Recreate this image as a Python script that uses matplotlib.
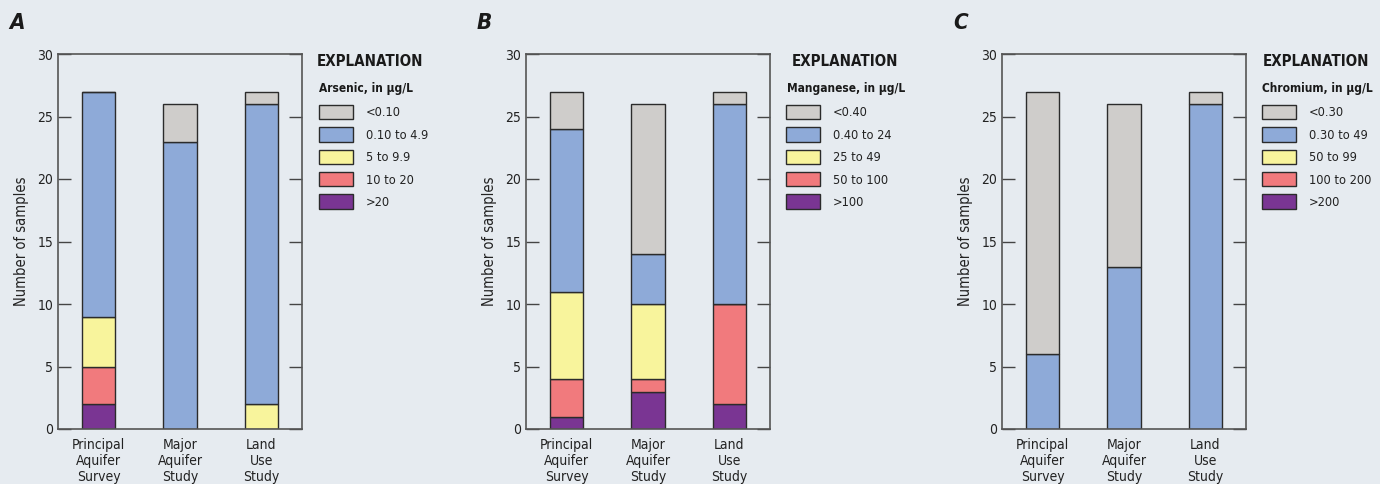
import matplotlib
matplotlib.use("Agg")
import matplotlib.pyplot as plt
from matplotlib.patches import Patch
import numpy as np

plt.rcParams['font.family'] = ['DejaVu Sans']
plt.rcParams['font.stretch'] = 'condensed'

# Study types along the x axis
studies = ["Principal\nAquifer\nSurvey", "Major\nAquifer\nStudy", "Land\nUse\nStudy"]

# Concentration classes, listed from highest (bottom of stack) to lowest (top)
arsenic_classes = [">20", "10 to 20", "5 to 9.9", "0.10 to 4.9", "<0.10"]
manganese_classes = [">100", "50 to 100", "25 to 49", "0.40 to 24", "<0.40"]
chromium_classes = [">200", "100 to 200", "50 to 99", "0.30 to 49", "<0.30"]

# Sample counts per class (rows follow the class lists), per study (columns)
arsenic_counts = [
    [2, 0, 0],
    [3, 0, 0],
    [4, 0, 2],
    [18, 23, 24],
    [0, 3, 1],
]
manganese_counts = [
    [1, 3, 2],
    [3, 1, 8],
    [7, 6, 0],
    [13, 4, 16],
    [3, 12, 1],
]
chromium_counts = [
    [0, 0, 0],
    [0, 0, 0],
    [0, 0, 0],
    [6, 13, 26],
    [21, 13, 1],
]

class_colors = ["#7a3593", "#f17a7d", "#f8f49c", "#8eaad8", "#cfcdcb"]

panels = [
    ("A", "Arsenic, in µg/L", arsenic_classes, arsenic_counts),
    ("B", "Manganese, in µg/L", manganese_classes, manganese_counts),
    ("C", "Chromium, in µg/L", chromium_classes, chromium_counts),
]

BG = "#e6ebf0"
W, H = 1380, 484
fig = plt.figure(figsize=(W / 100, H / 100), dpi=100, facecolor=BG)

# Pixel layout of each panel: axes left/right, legend left, title centre, letter x
layouts = [
    dict(ax_l=58, ax_r=302, leg_l=319, exp_c=370, sub_l=319, letter_x=9),
    dict(ax_l=526, ax_r=770, leg_l=786, exp_c=845, sub_l=787, letter_x=477),
    dict(ax_l=1002, ax_r=1246, leg_l=1262, exp_c=1316, sub_l=1262, letter_x=953),
]
ax_top, ax_bot = 54, 429


def fx(px):
    return px / W


def fy(py):
    return 1 - py / H


for (letter, subtitle, classes, counts), lay in zip(panels, layouts):
    ax = fig.add_axes([fx(lay["ax_l"]), fy(ax_bot),
                       fx(lay["ax_r"] - lay["ax_l"]), (ax_bot - ax_top) / H])
    ax.set_facecolor(BG)
    x = np.arange(len(studies))
    bottom = np.zeros(len(studies))
    for vals, color in zip(counts, class_colors):
        vals = np.array(vals, dtype=float)
        ax.bar(x, vals, width=0.41, bottom=bottom, color=color,
               edgecolor="#2b2b2b", linewidth=1.0, zorder=2)
        bottom += vals

    ax.set_xlim(-0.5, 2.5)
    ax.set_ylim(0, 30)
    ax.set_yticks(np.arange(0, 31, 5))
    ax.set_xticks(x)
    ax.set_xticklabels(studies, fontsize=10, color="#222222", linespacing=1.2)
    ax.tick_params(axis="x", length=0, pad=6.5)
    ax.tick_params(axis="y", direction="in", length=9.5, width=1.0,
                   color="#444444", labelsize=10, labelcolor="#222222",
                   pad=3.5, right=True)
    for sp in ax.spines.values():
        sp.set_color("#555555")
        sp.set_linewidth(1.2)
    ax.set_ylabel("Number of samples", fontsize=10.5, color="#222222", labelpad=6)

    # Panel letter
    fig.text(fx(lay["letter_x"]), fy(23), letter, fontsize=16, fontweight="bold",
             fontstyle="italic", color="#1a1a1a", ha="left", va="center")

    # Explanation block
    fig.text(fx(lay["exp_c"]), fy(61), "EXPLANATION", fontsize=10.8,
             fontweight="bold", color="#1a1a1a", ha="center", va="center")
    fig.text(fx(lay["sub_l"]), fy(88), subtitle, fontsize=8.6,
             fontweight="bold", color="#1a1a1a", ha="left", va="center")

    handles = [Patch(facecolor=c, edgecolor="#2b2b2b", linewidth=1.0)
               for c in class_colors][::-1]
    labels = classes[::-1]
    fig.legend(handles, labels, loc="upper left",
               bbox_to_anchor=(fx(lay["leg_l"]), fy(105)),
               frameon=False, fontsize=9.2, handlelength=2.66,
               handleheight=1.35, handletextpad=1.0, labelspacing=0.62,
               borderpad=0, borderaxespad=0, labelcolor="#222222")

fig.savefig("out.png", dpi=100, facecolor=BG)
